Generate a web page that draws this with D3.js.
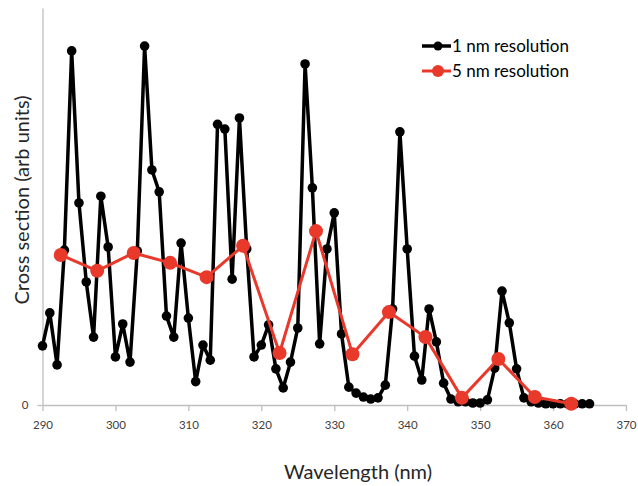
<!DOCTYPE html>
<html>
<head>
<meta charset="utf-8">
<script src="https://cdn.jsdelivr.net/npm/d3@7"></script>
<style>
  body { margin: 0; background: #fff; }
  text { font-family: Lato, "Open Sans", sans-serif; }
</style>
</head>
<body>
<div id="chart"></div>
<script>
// 1 nm resolution data
const wl1 = d3.range(290, 366);
const cs1 = [
  14.9, 23.2, 10.1, 39.0, 89.2, 50.9, 31.0, 17.1, 52.6, 39.8,
  12.1, 20.4, 10.8, 38.8, 90.4, 59.2, 53.7, 22.4, 17.1, 40.8,
  21.9, 5.9, 15.1, 11.3, 70.7, 69.5, 31.7, 72.3, 39.3, 12.1,
  15.1, 20.2, 9.1, 4.3, 10.8, 19.4, 85.9, 54.7, 15.4, 39.3,
  48.4, 17.9, 4.5, 3.0, 2.0, 1.5, 1.8, 5.0, 24.2, 68.8,
  39.3, 12.3, 6.3, 24.2, 15.9, 5.5, 1.5, 0.8, 0.8, 0.5,
  0.5, 1.3, 9.3, 28.7, 20.7, 9.1, 1.8, 0.8, 0.5, 0.3,
  0.3, 0.3, 0.3, 0.3, 0.3, 0.3
];

// 5 nm resolution data
const wl5 = [292.5, 297.5, 302.5, 307.5, 312.5, 317.5, 322.5, 327.5, 332.5, 337.5, 342.5, 347.5, 352.5, 357.5, 362.5];
const cs5 = [37.8, 33.8, 38.3, 35.8, 32.2, 40.1, 13.1, 43.8, 12.8, 23.4, 17.1, 1.8, 11.6, 2.0, 0.3];

const xTicks = [290, 300, 310, 320, 330, 340, 350, 360, 370];

const W = 638, H = 486;
const svg = d3.select("#chart").append("svg")
    .attr("width", W)
    .attr("height", H);

const x = d3.scaleLinear().domain([290, 370]).range([42.5, 626]);
const y = d3.scaleLinear().domain([0, 100]).range([405, 8]);

// X axis
const xAxis = svg.append("g")
    .attr("transform", "translate(0,405)")
    .call(d3.axisBottom(x).tickValues(xTicks).tickSize(6).tickSizeOuter(0).tickPadding(10));
xAxis.select(".domain").attr("stroke", "#bfbfbf").attr("stroke-width", 1.3);
xAxis.selectAll(".tick line").attr("stroke", "#bfbfbf").attr("stroke-width", 1.3);
xAxis.selectAll(".tick text")
    .attr("fill", "#404040")
    .style("font-size", "11.5px")
    .style("font-family", "Lato, 'Open Sans', sans-serif");

// Y axis (only the zero label)
const yAxis = svg.append("g")
    .attr("transform", "translate(42.5,0)")
    .call(d3.axisLeft(y).tickValues([0]).tickSize(5).tickSizeOuter(0).tickPadding(9));
yAxis.select(".domain").attr("stroke", "#bfbfbf").attr("stroke-width", 1.3);
yAxis.selectAll(".tick line").attr("stroke", "#bfbfbf").attr("stroke-width", 1.3);
yAxis.selectAll(".tick text")
    .attr("fill", "#404040")
    .style("font-size", "11.5px")
    .style("font-family", "Lato, 'Open Sans', sans-serif");

// axis titles
svg.append("text")
    .attr("x", 358)
    .attr("y", 479)
    .attr("text-anchor", "middle")
    .style("font-size", "20px")
    .attr("fill", "#262626")
    .text("Wavelength (nm)");

svg.append("text")
    .attr("transform", "translate(29,200) rotate(-90)")
    .attr("text-anchor", "middle")
    .style("font-size", "20px")
    .attr("fill", "#262626")
    .text("Cross section (arb units)");

// 1 nm series
const d1 = wl1.map((w, i) => [w, cs1[i]]);
const line = d3.line().x(d => x(d[0])).y(d => y(d[1]));

svg.append("path")
    .datum(d1)
    .attr("fill", "none")
    .attr("stroke", "#000")
    .attr("stroke-width", 3.5)
    .attr("stroke-linejoin", "round")
    .attr("d", line);

svg.selectAll(".p1")
    .data(d1)
    .enter()
    .append("circle")
    .attr("class", "p1")
    .attr("cx", d => x(d[0]))
    .attr("cy", d => y(d[1]))
    .attr("r", 4.8)
    .attr("fill", "#000");

// 5 nm series
const d5 = wl5.map((w, i) => [w, cs5[i]]);
const red = "#e8392b";

svg.append("path")
    .datum(d5)
    .attr("fill", "none")
    .attr("stroke", red)
    .attr("stroke-width", 3)
    .attr("stroke-linejoin", "round")
    .attr("d", line);

svg.selectAll(".p5")
    .data(d5)
    .enter()
    .append("circle")
    .attr("class", "p5")
    .attr("cx", d => x(d[0]))
    .attr("cy", d => y(d[1]))
    .attr("r", 7)
    .attr("fill", red);

// Legend
const legend = svg.append("g");
const items = [
    {label: "1 nm resolution", color: "#000", r: 4.5, w: 3.5, y: 46},
    {label: "5 nm resolution", color: red, r: 6, w: 3, y: 71}
];
items.forEach(it => {
    legend.append("line")
        .attr("x1", 422).attr("x2", 451)
        .attr("y1", it.y).attr("y2", it.y)
        .attr("stroke", it.color)
        .attr("stroke-width", it.w);
    legend.append("circle")
        .attr("cx", 438).attr("cy", it.y)
        .attr("r", it.r)
        .attr("fill", it.color);
    legend.append("text")
        .attr("x", 452)
        .attr("y", it.y + 6)
        .style("font-size", "17px")
        .attr("fill", "#000")
        .text(it.label);
});
</script>
</body>
</html>
